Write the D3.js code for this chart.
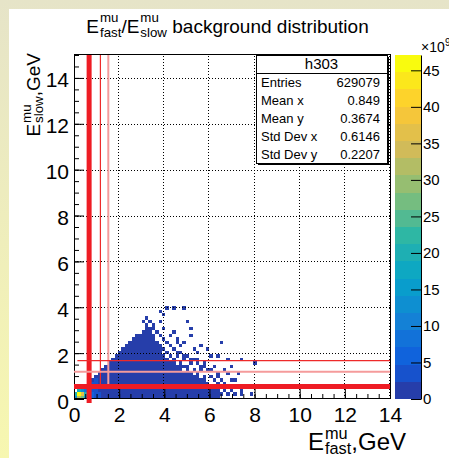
<!DOCTYPE html>
<html>
<head>
<meta charset="utf-8">
<script src="https://cdn.jsdelivr.net/npm/d3@7"></script>
<style>
  html, body { margin: 0; padding: 0; background: #fff; }
  svg { display: block; font-family: "Liberation Sans", Arial, Helvetica, sans-serif; }
  text { white-space: pre; fill: #000; }
</style>
</head>
<body>
<div class="chart-container"></div>
<script>
// ---- data (z in units of 1e9) ----
const binW = 0.15;
// top edge (GeV) of the filled body, one entry per x bin starting at 0
const colTops = [0.3, 0.45, 0.5, 0.6, 0.75, 0.9, 1.05, 1.2, 1.35, 1.5, 1.65, 1.8, 1.95, 2.1,
  2.25, 2.4, 2.55, 2.7, 2.85, 2.85, 3.0, 3.3, 3.15, 2.9, 2.8, 2.6, 2.45, 2.3, 2.15, 2.0,
  1.9, 1.8, 1.75, 1.65, 1.6, 1.5, 1.4, 1.3, 1.2, 1.1, 0.75, 0.6, 0.45];
const bodyValue = 1;
const holes = [[3.65, 2.6], [3.8, 2.45], [3.95, 2.3], [4.1, 2.15], [3.9, 2.0], [4.25, 2.0],
  [4.4, 1.85], [4.2, 1.7], [4.55, 1.75], [4.7, 1.65], [4.85, 1.6], [5.0, 1.5], [5.15, 1.45],
  [5.3, 1.35], [5.45, 1.25], [5.6, 1.15], [5.75, 1.05], [5.9, 0.95], [5.6, 0.95], [5.3, 1.05],
  [4.8, 1.3], [4.5, 1.55], [5.1, 1.2], [3.6, 2.75], [4.05, 1.85], [5.85, 0.8], [6.05, 0.6]];
const scatterCells = [[3.25, 3.45], [3.1, 3.3], [3.4, 3.3], [3.55, 3.05], [3.7, 2.95], [3.85, 2.8],
  [4.0, 2.6], [4.15, 2.45], [4.3, 2.3], [4.45, 2.2], [4.6, 2.05], [4.75, 1.95], [4.9, 1.9],
  [5.05, 1.8], [5.2, 1.75], [5.35, 1.65], [5.5, 1.55], [5.65, 1.45], [5.8, 1.35], [5.95, 1.25],
  [6.1, 1.0], [6.2, 0.85], [6.3, 0.7], [6.45, 0.45], [6.6, 0.3], [6.5, 0.15], [6.75, 0.15],
  [6.9, 0.3], [6.65, 0.6], [6.35, 0.9], [6.55, 0.8], [3.75, 3.8], [3.95, 3.65], [4.05, 3.9],
  [4.35, 3.9], [4.8, 4.0], [5.0, 3.3], [4.4, 2.95], [5.15, 3.0], [5.15, 2.7], [4.6, 2.6],
  [4.85, 2.45], [5.65, 2.35], [5.25, 2.2], [5.45, 2.0], [5.9, 2.15], [6.05, 1.85], [6.4, 1.8],
  [6.8, 1.75], [6.5, 2.45], [6.95, 1.35], [7.3, 1.1], [6.95, 0.85], [6.55, 0.85], [7.4, 0.4],
  [7.1, 0.25], [7.95, 1.5], [7.8, 0.45], [7.4, 1.7], [7.15, 0.75], [7.4, 0.15], [7.9, 0.25],
  [5.5, 1.75], [5.8, 1.6], [6.2, 1.45], [6.0, 1.3], [4.7, 2.3], [4.2, 2.75], [3.45, 3.15],
  [6.7, 1.2], [6.3, 1.15], [7.0, 0.55], [6.85, 1.05], [4.0, 3.1], [3.85, 3.3], [4.5, 2.5]];
const hotCells = [[0.15, 0.15, 47], [0.3, 0.15, 36], [0.15, 0, 31], [0.3, 0, 27], [0, 0.15, 21],
  [0.45, 0.15, 19], [0, 0, 14], [0.15, 0.3, 17], [0.3, 0.3, 13], [0.45, 0, 15], [0.6, 0, 10],
  [0.45, 0.3, 9], [0.6, 0.15, 8], [0.6, 0.3, 6], [0.75, 0, 6], [0.75, 0.15, 5], [0.75, 0.3, 4],
  [0.9, 0, 3], [0.9, 0.15, 3], [0.9, 0.3, 3], [0.3, 0.45, 5], [0.6, 0.45, 4], [0.75, 0.6, 4],
  [0.9, 0.6, 3.5], [0.75, 0.45, 4], [0.9, 0.75, 3], [1.05, 0, 2.6], [1.05, 0.15, 2.5]];

const xTicks = [0, 2, 4, 6, 8, 10, 12, 14];
const yTicks = [0, 2, 4, 6, 8, 10, 12, 14];
const zTicks = [0, 5, 10, 15, 20, 25, 30, 35, 40, 45];
const zMax = 47.1;
const nLevels = 20;

// cut lines: [position, from, to] in GeV
const vCuts = [[0.67, -0.17, 15], [1.17, 0.545, 15], [1.52, 0.545, 15]];
const hCuts = [[0.545, 0, 14], [1.67, 0.15, 14], [1.19, 0, 14]];

const histName = "h303";
const statNames = ["Entries", "Mean x", "Mean y", "Std Dev x", "Std Dev y"];
const statValues = ["629079", "0.849", "0.3674", "0.6146", "0.2207"];

// ---- drawing ----
const width = 449;
const height = 458;
const cutStyles = [{w: 5, c: "#ee1c24"}, {w: 1.2, c: "#ee2a2a"}, {w: 2, c: "#f59b9b"}];

// ROOT kBird palette
const birdStops = [0, 0.125, 0.25, 0.375, 0.5, 0.625, 0.75, 0.875, 1];
const birdR = [0.2082, 0.0592, 0.0780, 0.0232, 0.1802, 0.5301, 0.8186, 0.9956, 0.9764];
const birdG = [0.1664, 0.3599, 0.5041, 0.6419, 0.7178, 0.7492, 0.7328, 0.7862, 0.9832];
const birdB = [0.5293, 0.8684, 0.8385, 0.7914, 0.6425, 0.4662, 0.3499, 0.1968, 0.0539];
function bird(t) {
    const i = Math.min(birdStops.length - 2, Math.floor(t / 0.125));
    const f = (t - birdStops[i]) / (birdStops[i + 1] - birdStops[i]);
    const c = k => Math.round(255 * (k[i] + f * (k[i + 1] - k[i])));
    return `rgb(${c(birdR)},${c(birdG)},${c(birdB)})`;
}
const levelColor = l => bird((l + 1) / nLevels);
const valueColor = v => levelColor(Math.min(nLevels - 1, Math.floor(v / zMax * nLevels)));

const x = d3.scaleLinear().domain([0, 14]).range([74, 390]);
const y = d3.scaleLinear().domain([0, 15]).range([399, 55]);
const z = d3.scaleLinear().domain([0, zMax]).range([399, 55]);

const svg = d3.select(".chart-container").append("svg")
    .attr("width", width)
    .attr("height", height);

// canvas frame
const grad = svg.append("defs").append("linearGradient")
    .attr("id", "bg").attr("x1", 0).attr("y1", 0).attr("x2", 0).attr("y2", 1);
grad.append("stop").attr("offset", "0%").attr("stop-color", "#e6e4c8");
grad.append("stop").attr("offset", "100%").attr("stop-color", "#f7f7b0");
svg.append("rect").attr("width", width).attr("height", height).attr("fill", "url(#bg)");
svg.append("rect").attr("x", 9).attr("y", 9).attr("width", width - 9).attr("height", height - 9).attr("fill", "#fff");

// build histogram cells
const cells = new Map();
const key = (i, j) => i + "_" + j;
const bin = v => Math.floor(v / binW + 1e-6);
const holeSet = new Set(holes.map(h => key(bin(h[0]), bin(h[1]))));
colTops.forEach((top, i) => {
    const n = Math.round(top / binW);
    for (let j = 0; j < n; j++) {
        if (!holeSet.has(key(i, j))) cells.set(key(i, j), {i, j, v: bodyValue});
    }
});
scatterCells.forEach(d => cells.set(key(bin(d[0]), bin(d[1])), {i: bin(d[0]), j: bin(d[1]), v: bodyValue}));
hotCells.forEach(d => cells.set(key(bin(d[0]), bin(d[1])), {i: bin(d[0]), j: bin(d[1]), v: d[2]}));

svg.append("g")
    .attr("shape-rendering", "crispEdges")
    .selectAll("rect")
    .data(Array.from(cells.values()))
    .enter()
    .append("rect")
    .attr("x", d => x(d.i * binW))
    .attr("y", d => y((d.j + 1) * binW))
    .attr("width", d => x((d.i + 1) * binW) - x(d.i * binW))
    .attr("height", d => y(d.j * binW) - y((d.j + 1) * binW))
    .attr("fill", d => valueColor(d.v));

// grid
const grid = svg.append("g").attr("stroke", "#000").attr("stroke-dasharray", "1,2").attr("stroke-width", 1);
grid.selectAll(".gx").data(xTicks.filter(v => v > 0)).enter().append("line")
    .attr("x1", d => Math.round(x(d)) - 0.5).attr("x2", d => Math.round(x(d)) - 0.5)
    .attr("y1", y(0)).attr("y2", y(15));
grid.selectAll(".gy").data(yTicks.filter(v => v > 0)).enter().append("line")
    .attr("y1", d => Math.round(y(d)) + 0.5).attr("y2", d => Math.round(y(d)) + 0.5)
    .attr("x1", x(0)).attr("x2", x(14));

// frame
svg.append("rect")
    .attr("x", x(0) + 0.5).attr("y", y(15) - 0.5)
    .attr("width", x(14) - x(0)).attr("height", y(0) - y(15))
    .attr("fill", "none").attr("stroke", "#000");

const fixFont = (g, size) => g.attr("font-size", size).attr("font-family", null)
    .call(s => s.selectAll("text").attr("fill", "#000"));

// Add the x-axis.
svg.append("g")
    .attr("transform", `translate(0,${y(0)})`)
    .call(d3.axisBottom(x).ticks(28).tickSizeInner(-5).tickSizeOuter(0).tickFormat(""))
    .call(g => g.select(".domain").remove());
svg.append("g")
    .attr("transform", `translate(0,${y(0)})`)
    .call(d3.axisBottom(x).tickValues(xTicks).tickSizeInner(-10).tickSizeOuter(0).tickPadding(8))
    .call(g => g.select(".domain").remove())
    .call(g => fixFont(g, 21));

// Add the y-axis.
svg.append("g")
    .attr("transform", `translate(${x(0)},0)`)
    .call(d3.axisLeft(y).ticks(30).tickSizeInner(-5).tickSizeOuter(0).tickFormat(""))
    .call(g => g.select(".domain").remove());
svg.append("g")
    .attr("transform", `translate(${x(0)},0)`)
    .call(d3.axisLeft(y).tickValues(yTicks).tickSizeInner(-10).tickSizeOuter(0).tickPadding(5))
    .call(g => g.select(".domain").remove())
    .call(g => fixFont(g, 21))
    .call(g => g.selectAll("text").attr("dy", "0.43em"));

// colour bar
svg.append("g")
    .attr("shape-rendering", "crispEdges")
    .selectAll("rect")
    .data(d3.range(nLevels))
    .enter()
    .append("rect")
    .attr("x", 395)
    .attr("width", 26)
    .attr("y", l => z((l + 1) * zMax / nLevels))
    .attr("height", l => z(l * zMax / nLevels) - z((l + 1) * zMax / nLevels))
    .attr("fill", l => levelColor(l));
svg.append("g")
    .attr("transform", "translate(421,0)")
    .call(d3.axisRight(z).tickValues(zTicks).tickSizeInner(-10).tickSizeOuter(0).tickPadding(2))
    .call(g => fixFont(g, 15));
const expo = svg.append("g").attr("transform", "translate(421,52)");
expo.append("text").attr("font-size", 14).text("\u00d710");
expo.append("text").attr("x", 24).attr("y", -6).attr("font-size", 10).text("9");

// stats box
const sb = {x0: 256, x1: 387, y0: 55, y1: 163};
svg.append("rect").attr("x", sb.x0 + 2).attr("y", sb.y0 + 2).attr("width", sb.x1 - sb.x0).attr("height", sb.y1 - sb.y0).attr("fill", "#000");
svg.append("rect").attr("x", sb.x0 + 0.5).attr("y", sb.y0 + 0.5).attr("width", sb.x1 - sb.x0).attr("height", sb.y1 - sb.y0)
    .attr("fill", "#fff").attr("stroke", "#000");
svg.append("line").attr("x1", sb.x0).attr("x2", sb.x1).attr("y1", 73.5).attr("y2", 73.5).attr("stroke", "#000");
svg.append("text").attr("x", (sb.x0 + sb.x1) / 2).attr("y", 69).attr("text-anchor", "middle").attr("font-size", 15).text(histName);
statNames.forEach((n, k) => {
    const cy = 82 + 18 * k + 4.7;
    svg.append("text").attr("x", 261).attr("y", cy).attr("font-size", 13).text(n);
    svg.append("text").attr("x", 380).attr("y", cy).attr("text-anchor", "end").attr("font-size", 13).text(statValues[k]);
});

// simple latex-like text: main letter with stacked sup/sub
function latex(g, parts, size, opt) {
    let cx = 0;
    parts.forEach(p => {
        const t = g.append("text").attr("x", cx).attr("font-size", size).text(p.t);
        cx += t.node().getComputedTextLength();
        let w = 0;
        if (p.sup) {
            const s = g.append("text").attr("x", cx + 1).attr("y", opt.sup * size).attr("font-size", size * opt.scale).text(p.sup);
            w = Math.max(w, s.node().getComputedTextLength() + 1);
        }
        if (p.sub) {
            const s = g.append("text").attr("x", cx + 1).attr("y", opt.sub * size).attr("font-size", size * opt.scale).text(p.sub);
            w = Math.max(w, s.node().getComputedTextLength() + 1);
        }
        cx += w;
    });
    return cx;
}

// title
const tg = svg.append("g");
const tw = latex(tg, [{t: "E", sup: "mu", sub: "fast"}, {t: "/"}, {t: "E", sup: "mu", sub: "slow"}, {t: " background distribution"}],
    19, {sup: -0.6, sub: 0.2, scale: 0.7});
tg.attr("transform", `translate(${227.5 - tw / 2},33)`);

// x title
const xg = svg.append("g");
const xw = latex(xg, [{t: "E", sup: "mu", sub: "fast"}, {t: ",GeV"}], 24, {sup: -0.45, sub: 0.16, scale: 0.68});
xg.attr("transform", `translate(${406 - xw},450)`);

// y title
const yg = svg.append("g");
const yw = latex(yg, [{t: "E", sup: "mu", sub: "slow"}, {t: ",GeV"}], 19, {sup: -0.5, sub: 0.18, scale: 0.7});
yg.attr("transform", `translate(40,${53 + yw}) rotate(-90)`);

// cut lines
const cutG = svg.append("g");
vCuts.forEach((c, k) => {
    cutG.append("line")
        .attr("x1", x(c[0])).attr("x2", x(c[0]))
        .attr("y1", y(c[1])).attr("y2", y(c[2]))
        .attr("stroke", cutStyles[k].c).attr("stroke-width", cutStyles[k].w);
});
hCuts.forEach((c, k) => {
    cutG.append("line")
        .attr("y1", y(c[0])).attr("y2", y(c[0]))
        .attr("x1", x(c[1])).attr("x2", x(c[2]))
        .attr("stroke", cutStyles[k].c).attr("stroke-width", cutStyles[k].w);
});
</script>
</body>
</html>
